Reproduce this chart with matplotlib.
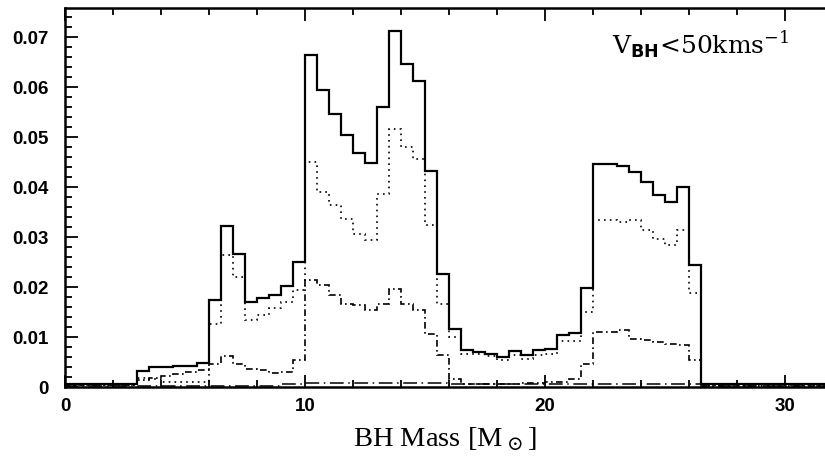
import numpy as np
import matplotlib
matplotlib.use("Agg")
import matplotlib.pyplot as plt
from matplotlib.ticker import MultipleLocator

# BH mass histograms, 0.5 Msun bins from 0 to 32
bin_width = 0.5
edges = np.arange(0, 32 + bin_width, bin_width)

# all kicks
total = ([0.0007] * 6 +
         [0.0032, 0.0040, 0.0041, 0.0042, 0.0043, 0.0049,
          0.0175, 0.0323, 0.0266, 0.0170, 0.0178, 0.0184, 0.0203, 0.0250,
          0.0664, 0.0594, 0.0547, 0.0504, 0.0469, 0.0449,
          0.0560, 0.0713, 0.0647, 0.0612, 0.0433, 0.0227, 0.0117,
          0.0074, 0.0071, 0.0067, 0.0061, 0.0072, 0.0064, 0.0074, 0.0077,
          0.0104, 0.0109, 0.0199,
          0.0447, 0.0446, 0.0443, 0.0431, 0.0411, 0.0384, 0.0371, 0.0401,
          0.0244] +
         [0.0007] * 11)

dotted = ([0.0004] * 6 +
          [0.0018, 0.0016, 0.0011, 0.0011, 0.0011, 0.0011,
           0.0126, 0.0265, 0.0220, 0.0134, 0.0144, 0.0158, 0.0171, 0.0195,
           0.0451, 0.0391, 0.0364, 0.0337, 0.0307, 0.0295,
           0.0387, 0.0517, 0.0481, 0.0457, 0.0324, 0.0166, 0.0101,
           0.0067, 0.0066, 0.0063, 0.0055, 0.0064, 0.0057, 0.0065, 0.0067,
           0.0093, 0.0093, 0.0151,
           0.0335, 0.0335, 0.0331, 0.0334, 0.0314, 0.0297, 0.0284, 0.0315,
           0.0189] +
          [0.0005] * 11)

dashdot = ([0.0004] * 6 +
           [0.0015, 0.0019, 0.0023, 0.0026, 0.0030, 0.0034,
            0.0046, 0.0062, 0.0047, 0.0037, 0.0034, 0.0029, 0.0031, 0.0054,
            0.0214, 0.0204, 0.0184, 0.0167, 0.0164, 0.0154,
            0.0167, 0.0196, 0.0167, 0.0154, 0.0107, 0.0064, 0.0017,
            0.0007, 0.0006, 0.0006, 0.0006, 0.0006, 0.0008, 0.0008, 0.0010,
            0.0011, 0.0017, 0.0047,
            0.0110, 0.0110, 0.0114, 0.0097, 0.0095, 0.0090, 0.0086, 0.0085,
            0.0055] +
           [0.0003] * 11)

longdash = [0.0002] * 18 + [0.0006] * 2 + [0.0009] * 12 + [0.0006] * 21 + [0.0002] * 11

plt.rcParams["mathtext.fontset"] = "custom"
plt.rcParams["mathtext.rm"] = "DejaVu Serif"
plt.rcParams["mathtext.bf"] = "DejaVu Sans:bold"

fig = plt.figure(figsize=(8.25, 4.62), dpi=100)
ax = fig.add_axes([65 / 825, 75 / 462, 760 / 825, 379 / 462])

ax.stairs(total, edges, color="black", lw=1.6)
ax.stairs(dotted, edges, color="black", lw=1.2, linestyle=(0, (1, 2.5)))
ax.stairs(dashdot, edges, color="black", lw=1.2, linestyle=(0, (4, 2, 1, 2)))
ax.stairs(longdash, edges, color="black", lw=1.1, linestyle=(0, (9, 3, 1, 3)))

ax.set_xlim(0, 760 / 24)
ax.set_ylim(0, 379 / 5000)

ax.xaxis.set_major_locator(MultipleLocator(10))
ax.xaxis.set_minor_locator(MultipleLocator(2))
ax.yaxis.set_major_locator(MultipleLocator(0.01))
ax.yaxis.set_minor_locator(MultipleLocator(0.002))
ax.yaxis.set_major_formatter(lambda v, pos: "0" if abs(v) < 1e-9 else f"{v:.2f}")

ax.tick_params(which="both", direction="in", top=True, right=False, width=1.3)
ax.tick_params(which="major", length=9)
ax.tick_params(which="minor", length=5)
ax.tick_params(axis="both", labelsize=13.5)
ax.tick_params(axis="y", pad=12)
ax.tick_params(axis="x", pad=8)
for lbl in ax.get_xticklabels() + ax.get_yticklabels():
    lbl.set_fontfamily("Liberation Sans")
    lbl.set_fontweight("bold")

for side in ["left", "top", "bottom"]:
    ax.spines[side].set_linewidth(1.8)
ax.spines["right"].set_visible(False)

ax.set_xlabel(r"BH Mass [M$_\odot$]", fontsize=20.5, family="Liberation Serif",
              labelpad=7)
ax.text(22.8, 0.0683, r"V$_{\mathbf{BH}}$<50kms$^{-1}$", fontsize=18,
        family="DejaVu Serif", ha="left", va="center")

fig.savefig("out.png", dpi=100)
